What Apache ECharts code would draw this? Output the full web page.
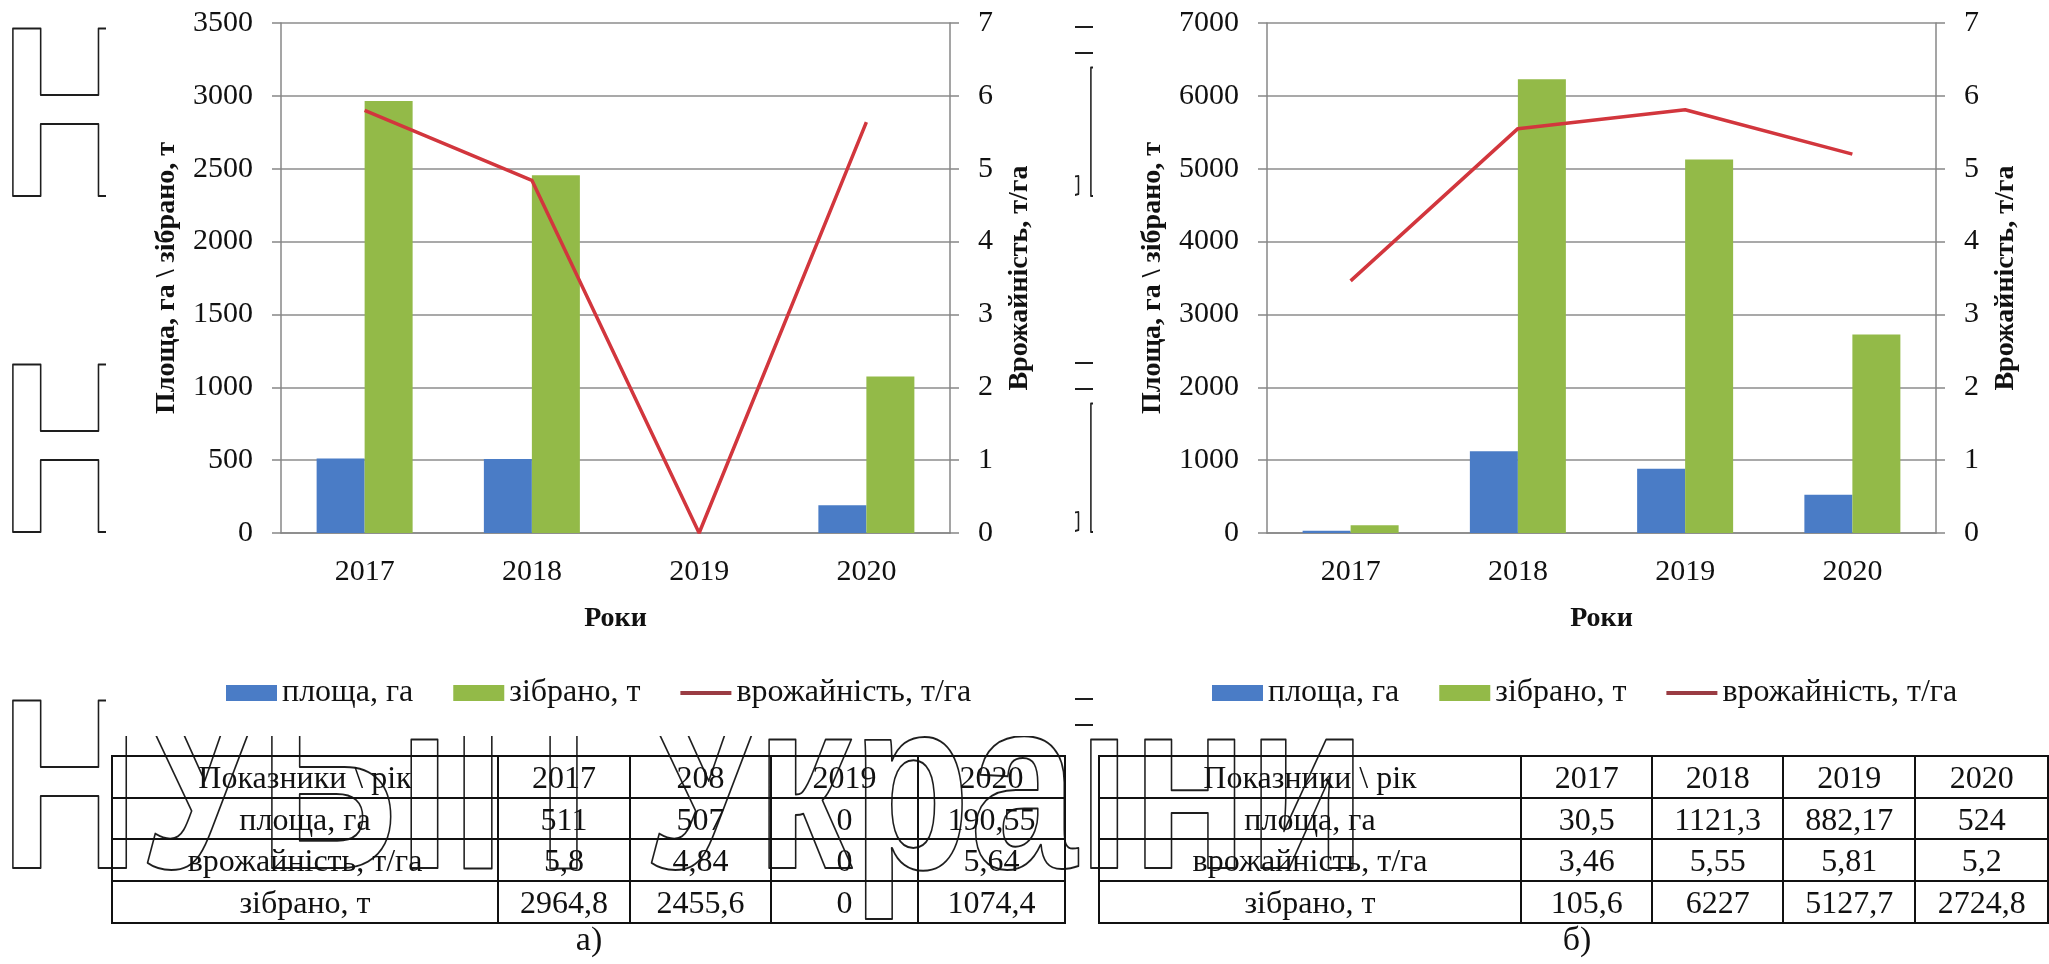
<!DOCTYPE html>
<html>
<head>
<meta charset="utf-8">
<title>Площа, врожайність, зібрано</title>
<script src="https://cdn.jsdelivr.net/npm/echarts@6/dist/echarts.min.js"></script>
<style>
    html, body {
        margin: 0;
        padding: 0;
        background: #fff;
    }

    .ns-page {
        position: relative;
        width: 2049px;
        height: 964px;
        overflow: hidden;
        font-family: "Liberation Serif", "Times New Roman", serif;
        color: #111;
    }

    /* водяний знак під усім */
    #wm {
        position: absolute;
        left: 0;
        top: 0;
    }

    #wm text {
        font-family: "Liberation Sans", Arial, sans-serif;
        font-weight: bold;
        font-size: 244px;
        fill: none;
        stroke: #1e1e1e;
        stroke-width: 2;
        stroke-linejoin: round;
    }

    #main {
        position: absolute;
        left: 0;
        top: 0;
        width: 2049px;
        height: 964px;
    }

    /* таблиці під графіками */
    .ns-table {
        position: absolute;
        top: 755px;
        border-collapse: collapse;
        table-layout: fixed;
        font-size: 32px;
    }

    .ns-table td {
        border: 2px solid #111;
        padding: 0;
        height: 39.7px;
        line-height: 30px;
        text-align: center;
        white-space: nowrap;
        overflow: hidden;
    }

    .ns-caption {
        position: absolute;
        top: 920px;
        font-size: 34px;
        line-height: 38px;
        transform: translateX(-50%);
    }
</style>
</head>
<body>
<div class="ns-page">
    <svg id="wm" width="2049" height="964">
        <g transform="scale(0.79,1)">
            <text x="0" y="196">НУБіП України</text>
            <text x="0" y="532">НУБіП України</text>
            <text x="0" y="868">НУБіП України</text>
        </g>
        <!-- білі підкладки картинок графіків -->
        <rect x="106" y="0" width="969" height="736" fill="#fff"></rect>
        <rect x="1093" y="0" width="956" height="736" fill="#fff"></rect>
    </svg>
    <div id="main"></div>
    <table class="ns-table" id="tableA" style="left:111px;"></table>
    <table class="ns-table" id="tableB" style="left:1098px;"></table>
    <div class="ns-caption" style="left:589px;">а)</div>
    <div class="ns-caption" style="left:1577px;">б)</div>
</div>
<script>
    var years = ['2017', '2018', '2019', '2020'];

    // а)
    var areaA = [511, 507, 0, 190.55];
    var harvestA = [2964.8, 2455.6, 0, 1074.4];
    var yieldA = [5.8, 4.84, 0, 5.64];

    // б)
    var areaB = [30.5, 1121.3, 882.17, 524];
    var harvestB = [105.6, 6227, 5127.7, 2724.8];
    var yieldB = [3.46, 5.55, 5.81, 5.2];

    var headA = ['Показники \\ рік', '2017', '208', '2019', '2020'];
    var headB = ['Показники \\ рік', '2017', '2018', '2019', '2020'];
    var rowNames = ['площа, га', 'врожайність, т/га', 'зібрано, т'];

    var colWidthsA = [386, 132, 141, 147, 147];
    var colWidthsB = [424, 132, 131, 133, 133];

    var FONT = 'Liberation Serif';
    var GRAY = '#878787';
    var BLUE = '#4a7cc6';
    var GREEN = '#93ba48';
    var RED = '#d2363d';

    // числа з комою, як у таблиці
    function fmt(v) {
        return String(v).replace('.', ',');
    }

    function buildTable(id, head, rows, widths) {
        var html = '<colgroup>';
        widths.forEach(function (w) {
            html += '<col style="width:' + w + 'px">';
        });
        html += '</colgroup><tr>';
        head.forEach(function (h) {
            html += '<td>' + h + '</td>';
        });
        html += '</tr>';
        rows.forEach(function (r, i) {
            html += '<tr><td>' + rowNames[i] + '</td>';
            r.forEach(function (v) {
                html += '<td>' + fmt(v) + '</td>';
            });
            html += '</tr>';
        });
        document.getElementById(id).innerHTML = html;
    }

    buildTable('tableA', headA, [areaA, yieldA, harvestA], colWidthsA);
    buildTable('tableB', headB, [areaB, yieldB, harvestB], colWidthsB);

    function catAxis(gridIndex) {
        return {
            type: 'category',
            gridIndex: gridIndex,
            data: years,
            name: 'Роки',
            nameLocation: 'middle',
            nameGap: 72,
            nameTextStyle: {fontFamily: FONT, fontSize: 28, fontWeight: 'bold', color: '#111'},
            axisLine: {lineStyle: {color: GRAY, width: 1.5}},
            axisTick: {length: 6, lineStyle: {color: GRAY}},
            axisLabel: {fontFamily: FONT, fontSize: 30, color: '#111', margin: 24}
        };
    }

    function valAxis(gridIndex, max, interval, position, name, nameGap, split) {
        return {
            type: 'value',
            gridIndex: gridIndex,
            position: position,
            min: 0,
            max: max,
            interval: interval,
            name: name,
            nameLocation: 'middle',
            nameRotate: 90,
            nameGap: nameGap,
            nameTextStyle: {fontFamily: FONT, fontSize: 28, fontWeight: 'bold', color: '#111'},
            axisLine: {show: true, lineStyle: {color: GRAY, width: 1.5}},
            axisTick: {show: true, length: 9, lineStyle: {color: GRAY, width: 1.5}},
            axisLabel: {
                fontFamily: FONT,
                fontSize: 30,
                color: '#111',
                margin: 28,
                formatter: function (v) {
                    return String(v);
                }
            },
            splitLine: {show: split, lineStyle: {color: '#8c8c8c', width: 1.5}}
        };
    }

    function barSeries(name, data, xi, yi, color) {
        return {
            name: name,
            type: 'bar',
            xAxisIndex: xi,
            yAxisIndex: yi,
            data: data,
            barWidth: 48,
            barGap: '0%',
            itemStyle: {color: color}
        };
    }

    function lineSeries(data, xi, yi) {
        return {
            name: 'врожайність, т/га',
            type: 'line',
            xAxisIndex: xi,
            yAxisIndex: yi,
            data: data,
            symbol: 'none',
            z: 5,
            lineStyle: {color: RED, width: 3.5},
            itemStyle: {color: RED}
        };
    }

    // значок лінії в легенді: смуга посередині, без кружечка
    var LINE_ICON = 'path://M0,0 M51,16 M0,6 L51,6 L51,10 L0,10 Z';

    function legend(left) {
        return {
            left: left,
            top: 672,
            itemWidth: 51,
            itemHeight: 16,
            itemGap: 40,
            textStyle: {fontFamily: FONT, fontSize: 32, color: '#111'},
            data: [
                {name: 'площа, га', icon: 'rect'},
                {name: 'зібрано, т', icon: 'rect'},
                {name: 'врожайність, т/га', icon: LINE_ICON, itemStyle: {color: '#9a3c43'}}
            ]
        };
    }

    var myChart = echarts.init(document.getElementById('main'));

    var option = {
        animation: false,
        legend: [legend(221), legend(1207)],
        grid: [
            {left: 281, right: 1099, top: 23, bottom: 431},
            {left: 1267, right: 113, top: 23, bottom: 431}
        ],
        xAxis: [catAxis(0), catAxis(1)],
        yAxis: [
            valAxis(0, 3500, 500, 'left', 'Площа, га \\ зібрано, т', 100, true),
            valAxis(0, 7, 1, 'right', 'Врожайність, т/га', 56, false),
            valAxis(1, 7000, 1000, 'left', 'Площа, га \\ зібрано, т', 100, true),
            valAxis(1, 7, 1, 'right', 'Врожайність, т/га', 56, false)
        ],
        series: [
            barSeries('площа, га', areaA, 0, 0, BLUE),
            barSeries('зібрано, т', harvestA, 0, 0, GREEN),
            lineSeries(yieldA, 0, 1),
            barSeries('площа, га', areaB, 1, 2, BLUE),
            barSeries('зібрано, т', harvestB, 1, 2, GREEN),
            lineSeries(yieldB, 1, 3)
        ]
    };

    myChart.setOption(option);
</script>
</body>
</html>
